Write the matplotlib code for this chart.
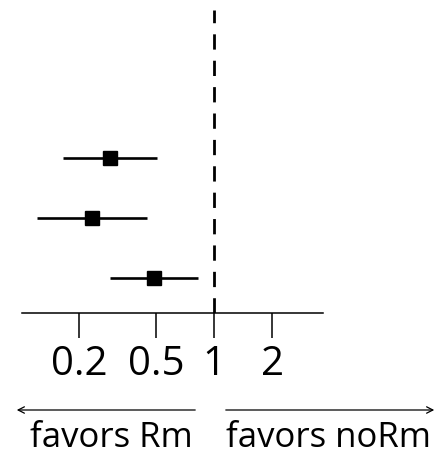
import matplotlib.pyplot as plt
from matplotlib.ticker import NullLocator

plt.rcParams['font.family'] = ['Open Sans', 'DejaVu Sans']

# estimates with confidence limits, one row each
estimates = [0.289, 0.233, 0.49]
ci_low = [0.165, 0.121, 0.289]
ci_high = [0.507, 0.45, 0.826]
rows = [1, 2, 3]

tick_values = [0.2, 0.5, 1, 2]
tick_labels = ["0.2", "0.5", "1", "2"]
side_labels = ["favors Rm", "favors noRm"]

fig = plt.figure(figsize=(4.37, 4.57), dpi=100)
ax = fig.add_axes([22 / 437, 1 - 313 / 457, 301 / 437, 313 / 457])

for r, est, lo, hi in zip(rows, estimates, ci_low, ci_high):
    ax.plot([lo, hi], [r, r], color="black", lw=1.9, solid_capstyle="butt")
    ax.plot(est, r, marker="s", color="black", markersize=10.5)

ax.axvline(1, ymin=0, ymax=(313 - 10) / 313, color="black", lw=2,
           ls=(0, (5.5, 4)))

ax.set_xscale("log")
ax.set_xlim(0.1012, 3.672)
ax.set_ylim(3.583, -1.633)
ax.set_xticks(tick_values)
ax.set_xticklabels(tick_labels)
ax.xaxis.set_minor_locator(NullLocator())
ax.tick_params(axis="x", length=18, width=1.1, pad=5, labelsize=29)
ax.set_yticks([])
for s in ["top", "left", "right"]:
    ax.spines[s].set_visible(False)
ax.spines["bottom"].set_linewidth(1.1)

# direction arrows under the axis
arr_y = 47 / 457
fig.add_artist(plt.matplotlib.patches.FancyArrowPatch(
    (198 / 437, arr_y), (14 / 437, arr_y), transform=fig.transFigure,
    arrowstyle="->,head_length=4.5,head_width=2.3", lw=0.9, color="black"))
fig.add_artist(plt.matplotlib.patches.FancyArrowPatch(
    (223 / 437, arr_y), (437 / 437, arr_y), transform=fig.transFigure,
    arrowstyle="->,head_length=4.5,head_width=2.3", lw=0.9, color="black"))
fig.text(111.5 / 437, 10 / 457, side_labels[0], ha="center", va="baseline",
         fontsize=25)
fig.text(328.5 / 437, 10 / 457, side_labels[1], ha="center", va="baseline",
         fontsize=25)

fig.savefig("out.png", dpi=100)
